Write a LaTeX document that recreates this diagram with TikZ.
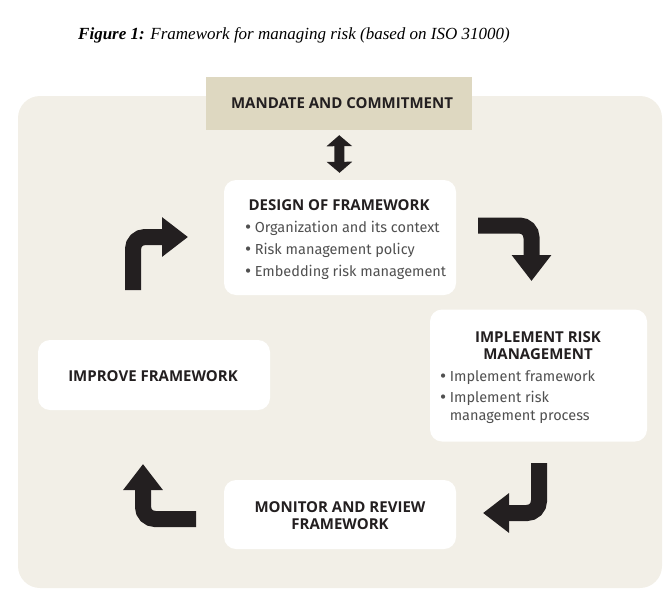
\documentclass[tikz,border=0pt]{standalone}
\usepackage{fontspec}
\newfontfamily\boxfont{Fira Sans}
\newfontfamily\headfont{Open Sans}
\newfontfamily\titlefont{Liberation Serif}
\usetikzlibrary{arrows.meta}

\definecolor{panelbg}{HTML}{F2EFE7}
\definecolor{mandatebg}{HTML}{DED8C1}
\definecolor{arrowblack}{HTML}{231F20}
\definecolor{itemgray}{HTML}{505050}

\newcommand{\bitem}{\raisebox{-1.4pt}{\scalebox{1.3}{\textbullet}}}

\begin{document}
\begin{tikzpicture}[x=1pt,y=-1pt,
    stagebox/.style={fill=white, rounded corners=12pt, inner sep=0pt},
    heading/.style={font=\headfont\bfseries\fontsize{15}{17}\selectfont, text=arrowblack, align=center, inner sep=0pt},
    itemlist/.style={font=\boxfont\fontsize{14.5}{18}\selectfont, text=itemgray, inner sep=0pt, anchor=base west},
    bentarrow/.style={draw=arrowblack, line width=16pt, rounded corners=12pt, -{Triangle[length=26pt,width=38pt]}},
    dblarrow/.style={draw=arrowblack, line width=10pt, {Triangle[length=11pt,width=25pt]}-{Triangle[length=11pt,width=25pt]}, shorten <=5pt, shorten >=7pt}]
    \useasboundingbox (0,0) rectangle (666,589);
    \node [anchor=base west, inner sep=0pt, font=\titlefont\fontsize{17}{20}\selectfont\itshape] (title) at (78,39) {\textbf{Figure 1:} Framework for managing risk (based on ISO 31000)};
    \fill [panelbg, rounded corners=22pt] (18,96) rectangle (662,588);
    \node [fill=mandatebg, minimum width=266pt, minimum height=53pt, inner sep=0pt] (mandate) at (339,103.5) {};
    \node [heading] (mandatehead) at (342,103.5) {MANDATE AND COMMITMENT};
    \node [stagebox, minimum width=232pt, minimum height=115pt] (design) at (340,237.5) {};
    \node [heading, anchor=base] (designhead) at (339,210) {DESIGN OF FRAMEWORK};
    \node [itemlist] (designlist) at (245,232) {\begin{tabular}[t]{@{}l@{\hspace{3.5pt}}l@{}}
        \bitem & Organization and its context\\[4pt]
        \bitem & Risk management policy\\[4pt]
        \bitem & Embedding risk management
    \end{tabular}};
    \node [stagebox, minimum width=217pt, minimum height=132pt] (implement) at (538.5,375.5) {};
    \node [heading] (implementhead) at (538,346) {IMPLEMENT RISK\\MANAGEMENT};
    \node [itemlist] (implementlist) at (440,381) {\begin{tabular}[t]{@{}l@{\hspace{3.5pt}}l@{}}
        \bitem & Implement framework\\[3pt]
        \bitem & Implement risk\\
        & management process
    \end{tabular}};
    \node [stagebox, minimum width=232pt, minimum height=70pt] (improve) at (154,375) {};
    \node [heading] (improvehead) at (153,376) {IMPROVE FRAMEWORK};
    \node [stagebox, minimum width=232pt, minimum height=69pt] (monitor) at (340,514.5) {};
    \node [heading] (monitorhead) at (340,515.5) {MONITOR AND REVIEW\\FRAMEWORK};
    \draw [dblarrow] (mandate) -- (design);
    \coordinate (tlfrom) at (133,290);
    \coordinate (tlto) at (188,237);
    \coordinate (trfrom) at (478,225.5);
    \coordinate (trto) at (531.5,281);
    \coordinate (brfrom) at (539,463);
    \coordinate (brto) at (483,513);
    \coordinate (blfrom) at (196,519);
    \coordinate (blto) at (143,464);
    \draw [bentarrow] (tlfrom) |- (tlto);
    \draw [bentarrow] (trfrom) -| (trto);
    \draw [bentarrow] (brfrom) |- (brto);
    \draw [bentarrow] (blfrom) -| (blto);
\end{tikzpicture}
\end{document}
